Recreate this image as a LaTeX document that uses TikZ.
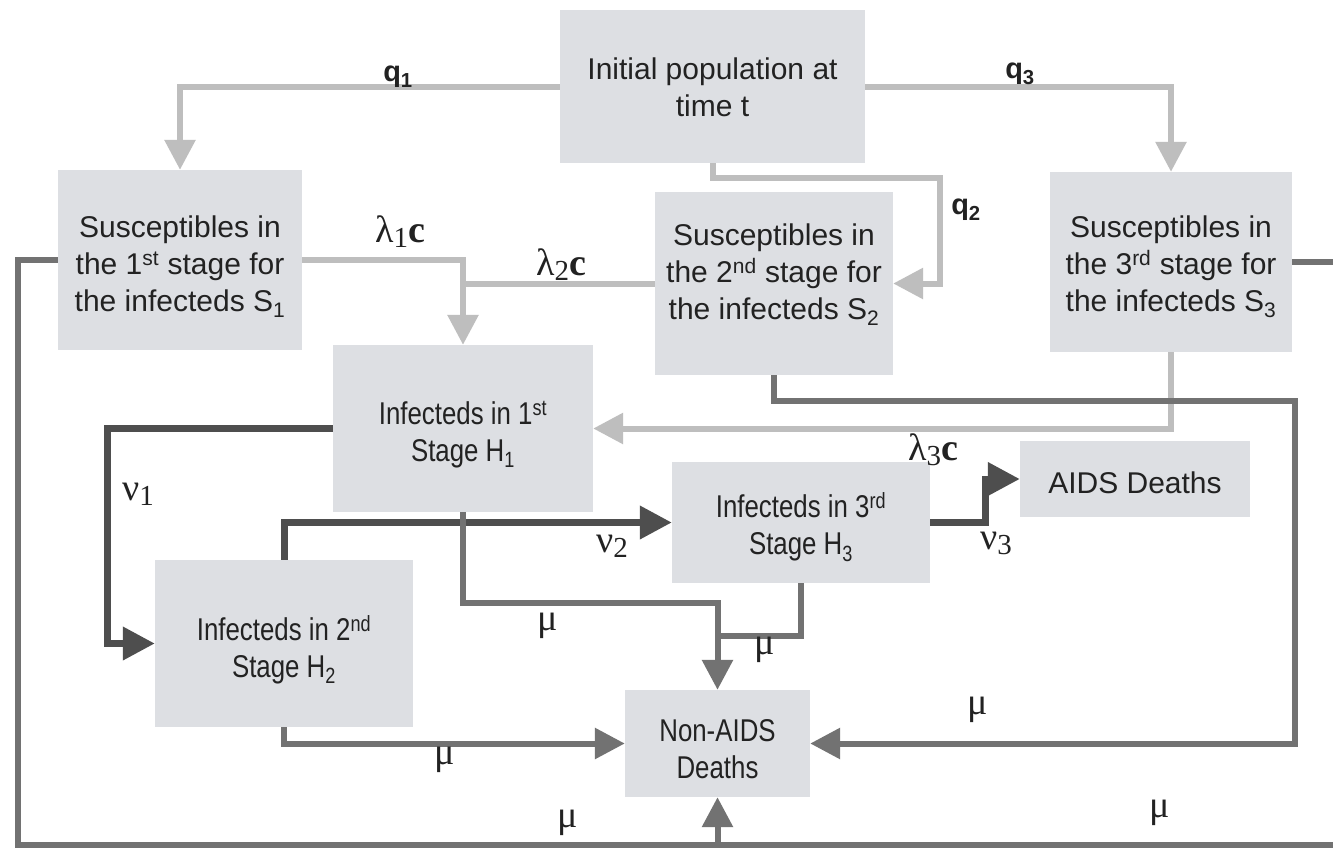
\documentclass[tikz,border=0pt]{standalone}
\usepackage{fontspec}
\setmainfont{Liberation Sans}
\newfontfamily\narrowfont[FakeStretch=0.82]{Liberation Sans}
\newfontfamily\greekfont{Liberation Serif}
\usetikzlibrary{arrows.meta,calc}
\definecolor{boxfill}{HTML}{DDDFE3}
\definecolor{litegray}{HTML}{BEBEBE}
\definecolor{midgray}{HTML}{727272}
\definecolor{darkgray}{HTML}{4E4E4E}
\definecolor{txt}{HTML}{222222}
\newcommand{\lowsub}[1]{\raisebox{-0.28ex}{\fontsize{29}{29}\selectfont #1}}
\begin{document}
\begin{tikzpicture}[x=1pt,y=-1pt,
  box/.style={fill=boxfill,draw=none,inner sep=0pt},
  wtext/.style={align=center,inner sep=0pt,text=txt,font=\fontsize{30}{37}\selectfont},
  ntext/.style={wtext,font=\narrowfont\fontsize{31.5}{37}\selectfont},
  lite/.style={draw=litegray,line width=6pt,-{Triangle[length=30pt,width=30pt]}},
  litenohead/.style={draw=litegray,line width=6pt},
  dark/.style={draw=darkgray,line width=7pt,-{Triangle[length=32pt,width=32pt]}},
  mid/.style={draw=midgray,line width=6pt,-{Triangle[length=30pt,width=30pt]}},
  midnohead/.style={draw=midgray,line width=6pt},
  qlab/.style={font=\bfseries\fontsize{29}{30}\selectfont,text=txt},
  glab/.style={font=\greekfont\fontsize{38}{38}\selectfont,text=txt},
]
\useasboundingbox[fill=white] (0,0) rectangle (1333,851);

% boxes
\node[box,minimum width=305,minimum height=153] (init) at (712.5,86.5) {};
\node[box,minimum width=244,minimum height=180] (s1) at (180,260) {};
\node[box,minimum width=238,minimum height=183] (s2) at (774,283.5) {};
\node[box,minimum width=242,minimum height=180] (s3) at (1171,262) {};
\node[box,minimum width=260,minimum height=167] (h1) at (463,428.5) {};
\node[box,minimum width=258,minimum height=121] (h3) at (801,522.5) {};
\node[box,minimum width=230,minimum height=76] (aids) at (1135,479) {};
\node[box,minimum width=258,minimum height=167] (h2) at (284,643.5) {};
\node[box,minimum width=185,minimum height=107] (nad) at (717.5,743.5) {};

% box texts
\node[wtext] (initt) at ($(init)+(0,1)$) {Initial population at\\time t};
\node[wtext] (s1t) at ($(s1)+(0,7)$) {Susceptibles in\\the 1\textsuperscript{st} stage for\\the infecteds S\textsubscript{1}};
\node[wtext] (s2t) at ($(s2)+(0,-9)$) {Susceptibles in\\the 2\textsuperscript{nd} stage for\\the infecteds S\textsubscript{2}};
\node[wtext] (s3t) at ($(s3)+(0,5)$) {Susceptibles in\\the 3\textsuperscript{rd} stage for\\the infecteds S\textsubscript{3}};
\node[ntext] (h1t) at ($(h1)+(0,6)$) {Infecteds in 1\textsuperscript{st}\\Stage H\textsubscript{1}};
\node[ntext] (h3t) at ($(h3)+(0,5)$) {Infecteds in 3\textsuperscript{rd}\\Stage H\textsubscript{3}};
\node[wtext] (aidst) at ($(aids)+(0,4)$) {AIDS Deaths};
\node[ntext] (h2t) at ($(h2)+(0,6)$) {Infecteds in 2\textsuperscript{nd}\\Stage H\textsubscript{2}};
\node[ntext] (nadt) at ($(nad)+(0,6)$) {Non-AIDS\\Deaths};

% helper coordinates
\coordinate (q2a) at (940,178);
\coordinate (n1) at (107,430);
\coordinate (n3) at (985,520);
\coordinate (rr) at (1295,401);
\coordinate (ll) at (18,845);
\coordinate (rbot) at (1333,845);
\coordinate (rtop) at (1333,262);

% q arrows
\draw[lite] (init.west) -| (s1.north);
\draw[lite] (init.east) -| (s3.north);
\draw[lite] (init.south) |- (q2a) |- (s2.east);
% lambda arrows
\draw[lite] (s1.east) -| (h1.north);
\draw[litenohead] (s2.west) -- (s2.west -| h1.north);
\draw[lite] (s3.south) |- (h1.east);
% nu arrows
\draw[dark] (h1.west) -- (h1.west -| n1) |- (h2.west);
\draw[dark] (h2.north) |- (h3.west);
\draw[dark] (h3.east) -- (h3.east -| n3) |- (aids.west);
% mu arrows
\draw[mid] (h1.south) -- ++(0,91) -| (nad.north);
\draw[midnohead] (h3.south) |- ($(nad.north)+(0,-54)$);
\draw[mid] (h2.south) |- (nad.west);
\draw[mid] (s2.south) |- (rr) |- (nad.east);
\draw[midnohead] (s1.west) -| (ll) -- (rbot);
\draw[midnohead] (s3.east) -- (rtop);
\draw[mid] (nad.south |- ll) -- (nad.south);

% labels
\node[qlab] (lq1) at (398,77) {q\textsubscript{1}};
\node[qlab] (lq3) at (1020,74) {q\textsubscript{3}};
\node[qlab] (lq2) at (966,210) {q\textsubscript{2}};
\node[glab] (ll1) at (400,232) {λ\lowsub{1}\textbf{c}};
\node[glab] (ll2) at (561,265) {λ\lowsub{2}\textbf{c}};
\node[glab] (ll3) at (933,450) {λ\lowsub{3}\textbf{c}};
\node[glab] (ln1) at (138,494) {ν\lowsub{1}};
\node[glab] (ln2) at (612,546) {ν\lowsub{2}};
\node[glab] (ln3) at (996,543) {ν\lowsub{3}};
\node[glab] (m1) at (548,626) {μ};
\node[glab] (m2) at (765,650) {μ};
\node[glab] (m3) at (445,760) {μ};
\node[glab] (m4) at (978,710) {μ};
\node[glab] (m5) at (568,823) {μ};
\node[glab] (m6) at (1160,813) {μ};
\end{tikzpicture}
\end{document}
